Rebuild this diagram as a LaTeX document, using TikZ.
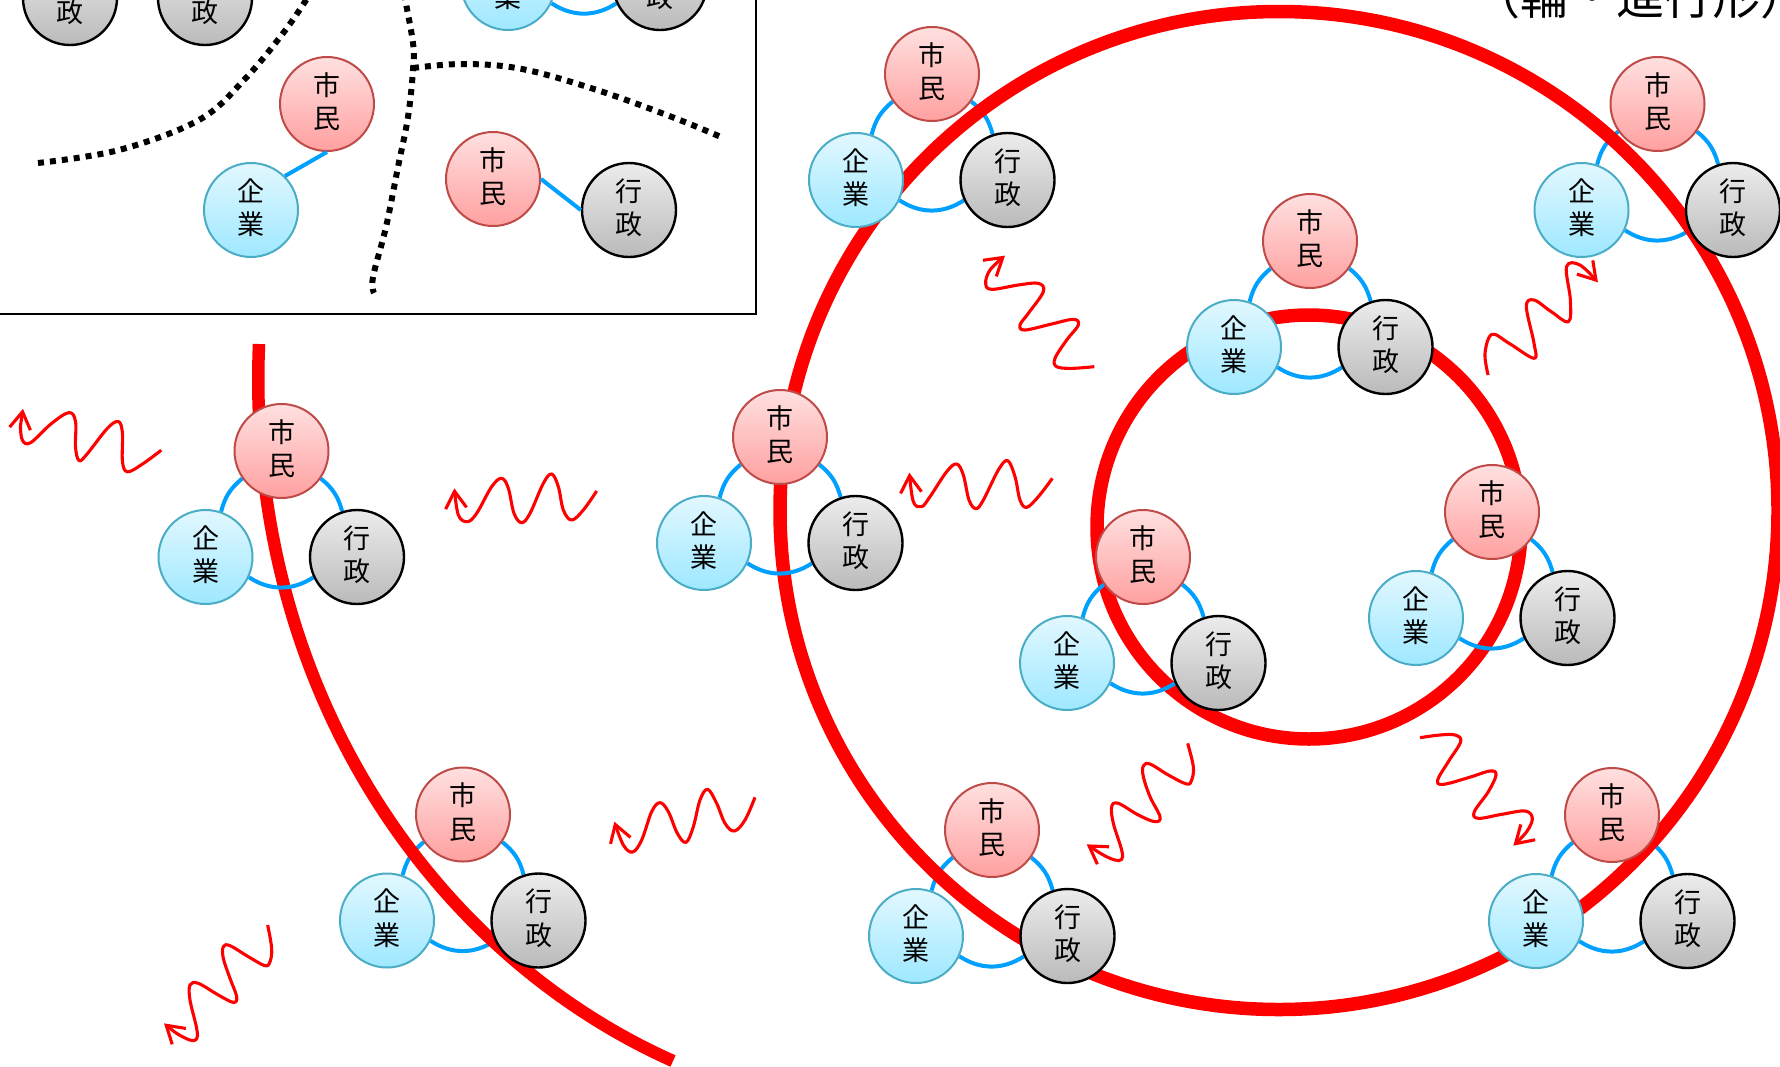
\documentclass[tikz,border=0pt]{standalone}
\usepackage{fontspec}
\setmainfont{Noto Sans CJK JP}
\usetikzlibrary{arrows.meta}
\pgfdeclarelayer{under}
\pgfdeclarelayer{ring}
\pgfdeclarelayer{over}
\pgfsetlayers{under,ring,over,main}
\definecolor{ringred}{RGB}{255,0,0}
\definecolor{linkblue}{RGB}{0,160,255}
\tikzset{
  actor/.style={circle,minimum size=94pt,inner sep=0pt,line width=2pt,align=center,text=black,
    font=\fontsize{27}{33.5}\selectfont,shading=axis,shading angle=0,
    execute at end node={\rule[-7pt]{0pt}{7pt}}},
  citizen/.style={actor,draw={rgb,255:red,190;green,75;blue,72},top color={rgb,255:red,255;green,224;blue,224},bottom color={rgb,255:red,255;green,160;blue,160}},
  firm/.style={actor,draw={rgb,255:red,75;green,172;blue,198},top color={rgb,255:red,226;green,248;blue,255},bottom color={rgb,255:red,158;green,232;blue,255}},
  gov/.style={actor,draw=black,line width=2.4pt,top color={rgb,255:red,236;green,236;blue,236},bottom color={rgb,255:red,186;green,186;blue,186}},
  link/.style={draw=linkblue,line width=4pt},
  bigring/.style={draw=ringred,line width=13.5pt},
  border/.style={draw=ringred,line width=12.5pt},
  dotted boundary/.style={draw=black,line width=6pt,dash pattern=on 6pt off 6pt},
  wave/.style={draw=ringred,line width=3.1pt,line join=round,-{Straight Barb[length=17pt,width=21pt,line width=3.1pt]}},
}
\newcommand{\trio}[4]{%
  \node[citizen] (#1m) at (#2,#3) {市\\民};
  \node[firm] (#1k) at ([shift={(-76,106)}]#1m.center) {企\\業};
  \node[gov] (#1g) at ([shift={(75.5,106)}]#1m.center) {行\\政};
  \begin{pgfonlayer}{#4}
    \draw[link] (#1k.71.6) to[bend left=18] (#1m.215);
    \draw[link] (#1m.325) to[bend left=18] (#1g.108.4);
    \draw[link] (#1g.205) to[bend left=33] (#1k.-25);
  \end{pgfonlayer}
}
\newcommand{\wavepath}[4]{%
  \begin{scope}[shift={(#1,#2)},x=#3pt,y=-.33333pt]
    \draw[wave] plot[smooth,tension=.6] coordinates {#4};
  \end{scope}
}
\begin{document}
\begin{tikzpicture}[x=1pt,y=-1pt]
\useasboundingbox (0,0) rectangle (1780,1066);

% frame of the inset
\coordinate (frameL) at (-5,314);
\coordinate (frameC) at (756,314);
\coordinate (frameT) at (756,-5);
\draw[line width=2.2pt] (frameL) -- (frameC) -- (frameT);

% dotted boundaries
\draw[dotted boundary] plot[smooth,tension=.6] coordinates {(38,163) (119,150) (199,120) (244,80) (284,32) (310,-6)};
\draw[dotted boundary] plot[smooth,tension=.6] coordinates {(404,-6) (413,43) (413,70) (408,117) (398,167) (386,227) (373,277) (374,293)};
\draw[dotted boundary] plot[smooth,tension=.6] coordinates {(413,68) (463,64) (522,69) (597,90) (672,117) (721,137)};

% red rings
\begin{pgfonlayer}{ring}
\draw[bigring] (1279,510.5) circle (499);
\draw[bigring] (1309,527) circle (212);
\coordinate (borderA) at (259,344);
\coordinate (borderB) at (673,1061);
\draw[border] (borderA) .. controls (245,690) and (435,955) .. (borderB);
\end{pgfonlayer}

% partly visible inset nodes
\node[gov] (ga) at (70,-2) {行\\政};
\node[gov] (gb) at (205,-2) {行\\政};
\node[firm] (ka) at (508,-17) {企\\業};
\node[gov] (gc) at (660,-17) {行\\政};
\begin{pgfonlayer}{under}
\draw[link] (gc.205) to[bend left=33] (ka.-25);
\end{pgfonlayer}

% pairs in the inset
\node[citizen] (mb) at (327,104) {市\\民};
\node[firm] (kb) at (251,210) {企\\業};
\draw[link] (mb.south) -- (kb.45);
\node[citizen] (mc) at (493,179) {市\\民};
\node[gov] (gd) at (629,210) {行\\政};
\draw[link] (mc.east) -- (gd.west);

% trios
\trio{a}{932}{74}{under}
\trio{b}{1657.5}{104}{under}
\trio{c}{1310}{241}{under}
\trio{d}{1492}{512}{over}
\trio{e}{1143}{557}{over}
\trio{f}{780}{437}{over}
\trio{g}{992}{830}{under}
\trio{h}{1612}{815}{under}
\trio{i}{281.5}{451}{over}
\trio{j}{463}{814.5}{under}

% wavy arrows
\begin{scope}[shift={(0,330)},x=.5102pt,y=-.4695pt]
\draw[wave] plot[smooth,tension=.6] coordinates {(316,256) (280,285) (250,302) (240,280) (240,220) (232,195) (210,210) (170,265) (155,278) (148,250) (148,195) (135,176) (100,200) (60,240) (44,235) (40,205) (42,190) (45,168)};
\end{scope}
\wavepath{440}{460}{.33333}{(470,93) (430,150) (395,180) (370,150) (355,80) (335,42) (310,70) (270,160) (245,188) (222,160) (205,85) (185,55) (155,80) (110,160) (82,185) (55,165) (43,85)}
\wavepath{600}{780}{.33333}{(465,52) (435,120) (403,153) (375,130) (350,70) (323,28) (300,60) (280,140) (258,187) (232,160) (205,95) (180,68) (155,95) (125,180) (98,216) (70,195) (43,125)}
\wavepath{155}{915}{.33333}{(338,30) (350,100) (345,140) (330,152) (280,125) (225,92) (205,95) (205,130) (225,190) (245,245) (235,262) (190,240) (130,205) (105,210) (105,255) (125,340) (125,372) (105,375) (65,355) (27,325)}
\wavepath{895}{450}{.33333}{(472,85) (430,140) (395,172) (375,150) (360,80) (338,32) (310,60) (265,150) (243,176) (222,150) (205,75) (185,42) (155,65) (105,140) (80,170) (55,155) (43,68)}
\wavepath{975}{250}{.33333}{(358,350) (290,355) (245,350) (240,325) (275,270) (310,225) (295,208) (230,222) (150,240) (135,225) (160,190) (205,125) (190,100) (130,105) (50,118) (32,100) (45,60) (90,17)}
\wavepath{1180}{0}{.38270}{(805,1125) (797,1060) (815,1003) (860,1030) (925,1075) (925,1030) (905,920) (925,900) (970,935) (1015,965) (1020,900) (1010,800) (1045,795) (1092,847)}
\wavepath{1080}{740}{.33333}{(323,10) (340,80) (335,120) (320,132) (265,105) (210,72) (190,78) (190,110) (210,170) (240,230) (225,245) (175,225) (115,190) (95,200) (100,250) (125,330) (125,358) (105,360) (70,345) (20,313)}
\wavepath{1415}{725}{.33333}{(15,38) (75,30) (120,30) (137,50) (100,110) (68,165) (85,178) (160,158) (225,138) (243,150) (220,200) (178,260) (190,280) (260,268) (330,258) (352,280) (335,320) (295,362)}

% title, cut by the page edge
\node[anchor=base west,inner sep=0pt,font=\fontsize{48}{48}\selectfont] (title) at (1472,14) {（輪・進行形）};
\end{tikzpicture}
\end{document}
